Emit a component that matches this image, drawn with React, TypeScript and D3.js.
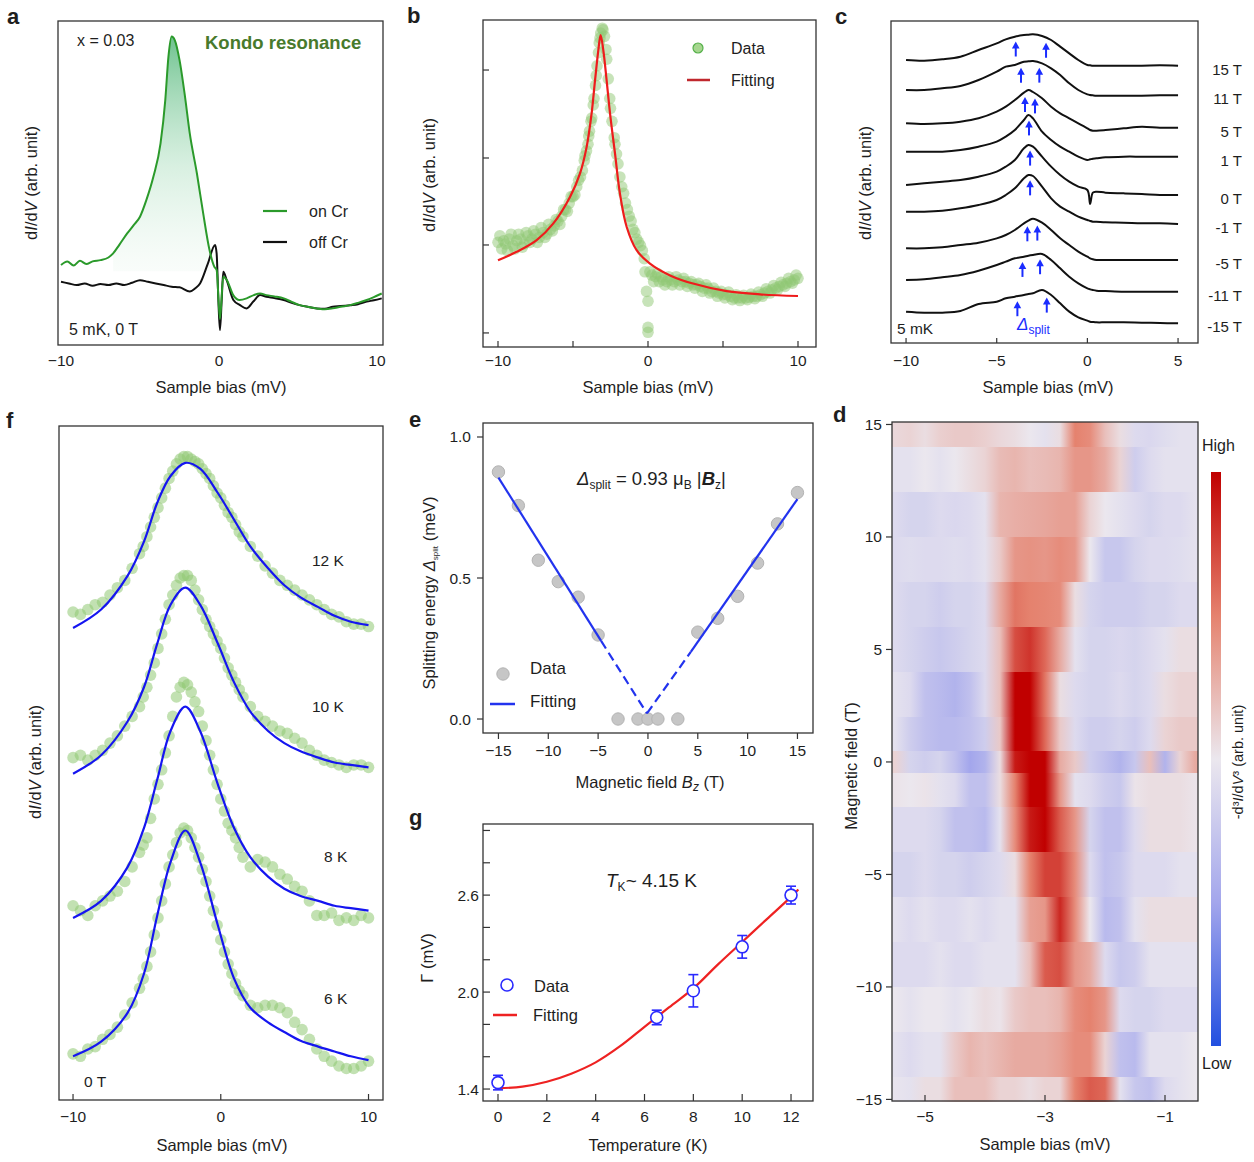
import React from "react";
import * as d3 from "d3";

const FONT = "Arial, 'Liberation Sans', Helvetica, sans-serif";
const INK = "#1e1e1e";
const EDGE = "#333333";
const DOT_GREEN = "#8fc873";
const TICK = 15.5;
const TITLE = 16.5;
const LEG = 16;

// ---------- panel a : on / off Cr spectra ----------
const aOnBias = [-10, -9.6, -9.2, -8.8, -8.4, -8, -7.5, -7, -6.7, -6.3, -5.8, -5.4, -5, -4.6, -4.15, -3.7, -3.4, -3.2, -3.0, -2.8, -2.5, -2.15, -1.85, -1.4, -1.0, -0.6, -0.3, -0.15, 0.06, 0.27, 0.5, 0.9, 1.3, 1.75, 2.2, 2.6, 3.0, 3.5, 4.1, 4.6, 5.1, 5.6, 6.2, 6.7, 7.2, 7.7, 8.3, 8.8, 9.35, 9.8, 10.3];
const aOnVal = [0.247, 0.258, 0.245, 0.26, 0.25, 0.258, 0.262, 0.27, 0.283, 0.31, 0.345, 0.37, 0.396, 0.447, 0.52, 0.622, 0.756, 0.89, 0.952, 0.941, 0.88, 0.766, 0.653, 0.53, 0.406, 0.293, 0.242, 0.232, 0.08, 0.211, 0.2, 0.154, 0.139, 0.144, 0.154, 0.159, 0.154, 0.15, 0.144, 0.133, 0.123, 0.118, 0.113, 0.11, 0.113, 0.118, 0.123, 0.13, 0.139, 0.148, 0.159];
const aOffBias = [-10, -9.5, -9, -8.5, -8, -7.5, -7, -6.5, -6, -5.5, -5, -4.5, -4, -3.5, -3.0, -2.5, -1.85, -1.5, -1.2, -0.7, -0.25, -0.15, -0.04, 0.06, 0.17, 0.27, 0.49, 0.91, 1.33, 1.75, 2.17, 2.6, 3.0, 3.5, 4.1, 4.6, 5.1, 5.6, 6.2, 6.7, 7.2, 7.7, 8.3, 8.8, 9.35, 9.8, 10.3];
const aOffVal = [0.195, 0.19, 0.185, 0.19, 0.183, 0.188, 0.185, 0.19, 0.185, 0.192, 0.2, 0.195, 0.19, 0.185, 0.18, 0.178, 0.165, 0.175, 0.19, 0.252, 0.309, 0.283, 0.139, 0.046, 0.139, 0.226, 0.2, 0.139, 0.123, 0.113, 0.134, 0.154, 0.149, 0.145, 0.139, 0.13, 0.123, 0.118, 0.113, 0.112, 0.118, 0.12, 0.123, 0.126, 0.134, 0.138, 0.144];
const aFillRange = [-6.9, -0.35];
const aFillBase = 0.228;

// ---------- panel b : data + fit ----------
const bBias = [-10, -9.75, -9.5, -9.25, -9, -8.75, -8.5, -8.25, -8, -7.75, -7.5, -7.25, -7, -6.75, -6.5, -6.25, -6, -5.75, -5.5, -5.25, -5, -4.75, -4.5, -4.25, -4.1, -4, -3.9, -3.75, -3.6, -3.5, -3.4, -3.25, -3.15, -3.05, -3, -2.9, -2.8, -2.75, -2.65, -2.55, -2.5, -2.4, -2.25, -2.1, -2, -1.75, -1.5, -1.25, -1, -0.75, -0.5, -0.25, -0.1, 0, 0, 0, 0.25, 0.5, 0.75, 1, 1.25, 1.5, 1.75, 2, 2.25, 2.5, 2.75, 3, 3.25, 3.5, 3.75, 4, 4.25, 4.5, 4.75, 5, 5.25, 5.5, 5.75, 6, 6.25, 6.5, 6.75, 7, 7.25, 7.5, 7.75, 8, 8.25, 8.5, 8.75, 9, 9.25, 9.5, 9.75, 10];
const bVal = [0.32, 0.30, 0.315, 0.33, 0.31, 0.325, 0.33, 0.315, 0.34, 0.33, 0.345, 0.335, 0.35, 0.345, 0.36, 0.37, 0.385, 0.40, 0.42, 0.44, 0.46, 0.49, 0.52, 0.57, 0.60, 0.62, 0.66, 0.70, 0.76, 0.80, 0.86, 0.93, 0.96, 0.975, 0.97, 0.95, 0.91, 0.88, 0.82, 0.76, 0.73, 0.69, 0.64, 0.59, 0.56, 0.49, 0.44, 0.40, 0.36, 0.33, 0.31, 0.27, 0.17, 0.14, 0.06, 0.045, 0.22, 0.215, 0.20, 0.205, 0.2, 0.205, 0.2, 0.205, 0.2, 0.2, 0.195, 0.19, 0.19, 0.185, 0.18, 0.18, 0.17, 0.17, 0.165, 0.16, 0.16, 0.155, 0.15, 0.15, 0.15, 0.15, 0.152, 0.155, 0.155, 0.16, 0.165, 0.17, 0.175, 0.18, 0.185, 0.19, 0.195, 0.2, 0.205, 0.21];
// second scan of points filling the band
const bBias2 = [-9.875, -9.625, -9.375, -9.125, -8.875, -8.625, -8.375, -8.125, -7.875, -7.625, -7.375, -7.125, -6.875, -6.625, -6.375, -6.125, -5.875, -5.625, -5.375, -5.125, -4.875, -4.625, -4.375, -4.2, -3.95, -3.8, -3.65, -3.45, -3.3, -3.2, -2.2, -1.875, -1.625, -1.375, -1.125, -0.875, -0.625, -0.375, -0.2, 0.125, 0.375, 0.625, 0.875, 1.125, 1.375, 1.625, 1.875, 2.125, 2.375, 2.625, 2.875, 3.125, 3.375, 3.625, 3.875, 4.125, 4.375, 4.625, 4.875, 5.125, 5.375, 5.625, 5.875, 6.125, 6.375, 6.625, 6.875, 7.125, 7.375, 7.625, 7.875, 8.125, 8.375, 8.625, 8.875, 9.125, 9.375, 9.625, 9.875];
const bVal2 = [0.34, 0.325, 0.295, 0.345, 0.3, 0.345, 0.305, 0.35, 0.32, 0.355, 0.32, 0.365, 0.335, 0.375, 0.355, 0.39, 0.375, 0.42, 0.415, 0.46, 0.465, 0.51, 0.54, 0.585, 0.645, 0.69, 0.74, 0.83, 0.9, 0.945, 0.62, 0.52, 0.47, 0.42, 0.385, 0.35, 0.32, 0.295, 0.23, 0.23, 0.2, 0.225, 0.215, 0.19, 0.215, 0.19, 0.215, 0.19, 0.21, 0.185, 0.2, 0.18, 0.195, 0.17, 0.19, 0.165, 0.18, 0.155, 0.17, 0.15, 0.168, 0.145, 0.16, 0.142, 0.158, 0.145, 0.162, 0.148, 0.168, 0.155, 0.178, 0.165, 0.188, 0.175, 0.198, 0.185, 0.21, 0.195, 0.22];
const bFitBias = [-10, -8.76, -7.42, -6.31, -5.2, -4.53, -4.09, -3.76, -3.53, -3.31, -3.16, -2.98, -2.76, -2.53, -2.2, -1.87, -1.42, -0.76, 0.13, 1.47, 3.0, 5.24, 7.47, 10];
const bFitVal = [0.265, 0.291, 0.327, 0.378, 0.459, 0.531, 0.612, 0.714, 0.816, 0.908, 0.954, 0.908, 0.816, 0.714, 0.592, 0.469, 0.367, 0.296, 0.255, 0.219, 0.194, 0.171, 0.161, 0.156];
const bYTicks = [0.043, 0.312, 0.578, 0.847];

// ---------- panel c : field-dependent spectra ----------
const cBias = [-10, -9, -8, -7, -6, -5, -4.5, -4, -3.5, -3.25, -3, -2.5, -2, -1.5, -1, -0.5, 0, 0.15, 0.3, 0.5, 1, 2, 3, 4, 5];
const c15 = [84.9, 84.7, 85.1, 85.9, 87.9, 89.9, 91.1, 91.9, 92.4, 92.5, 92.6, 92.1, 90.9, 88.9, 86.9, 84.9, 83.4, 83.3, 83.2, 83.2, 83.2, 83.2, 83.2, 83.3, 83.2];
const c11 = [75.9, 75.9, 76.4, 77.1, 78.9, 81.4, 82.9, 83.4, 84.4, 84.5, 84.6, 83.9, 82.4, 80.4, 77.9, 75.9, 74.6, 74.4, 74.3, 74.2, 74.2, 74.2, 74.2, 74.3, 74.3];
const c5 = [65.9, 65.7, 65.9, 66.4, 67.4, 69.4, 70.9, 72.9, 75.1, 75.9, 75.3, 73.4, 70.9, 68.9, 67.4, 65.9, 64.4, 63.9, 63.7, 63.7, 63.9, 64.4, 64.9, 64.6, 64.6];
const c1 = [57.4, 57.4, 57.4, 57.9, 58.9, 60.4, 61.9, 63.9, 66.9, 68.4, 67.4, 63.4, 60.9, 58.9, 57.4, 55.9, 54.9, 55.1, 55.3, 55.4, 55.7, 55.9, 55.9, 55.9, 55.9];
const c0 = [47.4, 47.9, 48.4, 48.9, 49.9, 51.4, 52.9, 54.9, 58.4, 59.4, 58.9, 55.9, 52.9, 50.4, 48.4, 46.9, 45.9, 41.7, 45.1, 45.4, 45.1, 44.9, 44.7, 44.4, 44.4];
const cM1 = [39.4, 39.4, 39.7, 40.4, 41.4, 42.9, 44.4, 46.4, 49.4, 50.4, 50.1, 46.9, 43.4, 40.9, 39.4, 37.9, 36.9, 36.6, 36.4, 36.4, 36.2, 36.1, 35.9, 35.9, 35.7];
const cM5 = [28.4, 28.4, 28.7, 29.4, 30.1, 31.4, 32.4, 33.9, 35.9, 36.7, 37.3, 36.1, 33.9, 31.4, 29.4, 27.4, 25.9, 25.4, 25.1, 24.9, 24.9, 24.9, 24.9, 24.9, 24.9];
const cM11 = [18.9, 19.1, 19.7, 20.4, 21.7, 23.4, 24.4, 25.4, 25.9, 26.2, 26.4, 26.7, 24.9, 22.4, 19.9, 17.9, 16.4, 16.1, 15.9, 15.7, 15.6, 15.4, 15.4, 15.4, 15.4];
const cM15 = [9.4, 9.1, 9.1, 9.6, 11.7, 12.4, 13.4, 13.9, 14.4, 14.7, 14.9, 15.9, 14.4, 11.9, 9.4, 7.7, 6.7, 6.4, 6.3, 6.2, 6.2, 6.2, 6.1, 6.0, 5.9];
const cLabels = ["15 T", "11 T", "5 T", "1 T", "0 T", "-1 T", "-5 T", "-11 T", "-15 T"];
const cArrows = [[-3.95, -2.28], [-3.66, -2.65], [-3.44, -2.89], [-3.22], [-3.16], [-3.16], [-3.31, -2.76], [-3.58, -2.61], [-3.86, -2.24]];

// ---------- panel d : -d3I/dV3 map ----------
const dFields = [15, 13, 11, 9, 7, 5, 3, 1, 0, -1, -3, -5, -7, -9, -11, -13, -15];
const dBias = [-5.5, -5.25, -5, -4.75, -4.5, -4.25, -4, -3.75, -3.5, -3.25, -3, -2.75, -2.5, -2.25, -2, -1.75, -1.5, -1.25, -1, -0.75, -0.5];
const dRow15 = [0.08, 0.1, 0.05, 0.12, 0.15, 0.15, 0.12, 0.08, 0.05, 0, -0.05, 0.05, 0.5, 0.45, 0.2, 0.05, -0.1, -0.12, -0.08, -0.05, -0.05];
const dRow13 = [-0.05, -0.05, 0, -0.05, 0, 0.05, 0.1, 0.22, 0.25, 0.2, 0.22, 0.25, 0.4, 0.4, 0.3, 0.1, -0.2, -0.1, -0.05, -0.05, -0.05];
const dRow11 = [-0.1, -0.15, -0.15, -0.1, -0.12, -0.1, -0.05, 0.25, 0.28, 0.3, 0.32, 0.35, 0.35, 0.1, 0.0, -0.05, -0.1, -0.15, -0.1, -0.1, -0.05];
const dRow9 = [-0.1, -0.08, -0.1, -0.1, -0.08, -0.1, -0.05, 0.15, 0.4, 0.42, 0.4, 0.45, 0.4, 0.0, -0.25, -0.25, -0.15, -0.1, -0.1, -0.08, -0.05];
const dRow7 = [-0.1, -0.15, -0.15, -0.2, -0.15, -0.15, -0.1, 0.3, 0.55, 0.5, 0.48, 0.45, 0.05, -0.15, -0.2, -0.2, -0.2, -0.15, -0.15, -0.1, -0.1];
const dRow5 = [-0.1, -0.15, -0.2, -0.25, -0.2, -0.15, -0.1, 0.2, 0.7, 0.8, 0.6, 0.3, -0.05, -0.15, -0.15, -0.12, -0.15, -0.1, -0.05, 0.05, 0.05];
const dRow3 = [-0.05, -0.1, -0.3, -0.35, -0.4, -0.3, -0.1, 0.2, 1.0, 1.0, 0.55, 0.05, -0.1, -0.15, -0.15, -0.1, -0.15, -0.1, 0.05, 0.1, 0.1];
const dRow1 = [-0.05, -0.2, -0.3, -0.35, -0.35, -0.3, -0.2, 0.15, 1.0, 1.0, 0.6, 0.15, -0.1, -0.2, -0.2, -0.15, -0.2, -0.1, 0.1, 0.15, 0.15];
const dRow0 = [0.1, -0.15, -0.2, -0.15, -0.3, -0.5, -0.4, 0.05, 0.9, 1.0, 1.0, 0.3, 0.15, -0.2, -0.3, -0.4, -0.25, 0.2, -0.4, 0.1, 0.3];
const dRowM1 = [0.02, 0.0, 0.02, -0.05, -0.1, -0.3, -0.3, 0.05, 0.5, 1.0, 1.0, 0.4, -0.05, -0.1, -0.2, -0.25, 0.02, 0.05, 0.05, 0.05, 0.02];
const dRowM3 = [-0.1, -0.1, -0.1, -0.15, -0.3, -0.3, -0.35, -0.05, 0.45, 0.9, 1.0, 0.65, 0.4, -0.15, -0.3, -0.3, -0.1, 0.05, 0.05, 0.05, 0.02];
const dRowM5 = [-0.15, -0.15, -0.1, -0.15, -0.15, -0.2, -0.15, -0.1, 0.05, 0.5, 0.75, 0.75, 0.45, -0.1, -0.3, -0.25, -0.1, -0.1, -0.1, -0.05, -0.05];
const dRowM7 = [-0.05, -0.1, -0.05, -0.1, -0.1, -0.05, -0.1, -0.05, -0.05, 0.35, 0.4, 0.85, 0.45, 0.0, -0.35, -0.3, -0.05, 0.05, 0.05, 0.05, 0.05];
const dRowM9 = [-0.1, -0.1, -0.1, -0.05, -0.1, -0.1, -0.05, -0.05, -0.05, 0.2, 0.65, 0.7, 0.4, 0.3, -0.1, -0.25, -0.2, -0.05, -0.05, -0.05, -0.05];
const dRowM11 = [0, -0.05, 0, 0, -0.05, 0, 0.05, 0.02, 0.15, 0.2, 0.2, 0.25, 0.45, 0.5, 0.4, -0.1, -0.15, -0.15, -0.1, -0.1, -0.1];
const dRowM13 = [-0.05, -0.1, -0.05, -0.05, 0.15, 0.25, 0.2, 0.25, 0.3, 0.3, 0.3, 0.35, 0.45, 0.45, 0.1, -0.3, -0.35, -0.05, -0.05, -0.05, 0.0];
const dRowM15 = [-0.02, -0.05, 0.05, 0.05, 0.2, 0.2, 0.2, 0.1, 0.1, 0.05, 0.1, 0.1, 0.5, 0.65, 0.6, -0.05, -0.25, -0.3, -0.1, -0.05, 0];
const dRows = [dRow15, dRow13, dRow11, dRow9, dRow7, dRow5, dRow3, dRow1, dRow0, dRowM1, dRowM3, dRowM5, dRowM7, dRowM9, dRowM11, dRowM13, dRowM15];

// ---------- panel e : splitting vs field ----------
const eField = [-15, -13, -11, -9, -7, -5, -3, -1, 0, 1, 3, 5, 7, 9, 11, 13, 15];
const eSplit = [0.876, 0.757, 0.563, 0.487, 0.432, 0.298, 0, 0, 0, 0, 0, 0.308, 0.357, 0.435, 0.553, 0.692, 0.803];
const eFitSolidL = [[-15, 0.856], [-4.7, 0.277]];
const eFitDashL = [[-4.7, 0.277], [-0.1, 0.02]];
const eFitDashR = [[-0.1, 0.02], [4.3, 0.238]];
const eFitSolidR = [[4.3, 0.238], [15, 0.78]];

// ---------- panel f : temperature series ----------
const fBias = [-10, -9.5, -9, -8.5, -8, -7.5, -7, -6.5, -6, -5.5, -5.25, -5, -4.75, -4.5, -4.25, -4, -3.75, -3.5, -3.25, -3, -2.75, -2.5, -2.25, -2, -1.75, -1.5, -1.25, -1, -0.75, -0.5, -0.25, 0, 0.25, 0.5, 0.75, 1, 1.25, 1.5, 2, 2.5, 3, 3.5, 4, 4.5, 5, 5.5, 6, 6.5, 7, 7.5, 8, 8.5, 9, 9.5, 10];
const f6K = [9.5, 9, 10.5, 11, 12.5, 13.5, 15, 17.5, 20, 23, 25, 27.5, 30.5, 34, 37.5, 41, 44.5, 48, 50.5, 53, 55, 56, 55.5, 54, 52, 50, 47.5, 45, 42, 39, 36, 33, 30.5, 28, 26, 24, 22.5, 21.5, 19.5, 19, 19.5, 19.5, 19, 18, 16, 14.5, 12.5, 10.5, 9, 8, 7, 6.5, 6.5, 7, 8];
const f8K = [40, 39, 38, 40, 41, 42, 43, 45, 48, 51, 52.5, 54, 58, 62, 65, 68, 71.5, 75, 79, 83, 85, 86, 85.5, 84, 82, 80, 77, 74, 71, 68, 65, 62, 59.5, 57, 55.5, 54, 52, 50, 48, 49.5, 49, 48, 46.5, 45.5, 44, 43, 41, 38, 38, 38.5, 37, 37.5, 37, 38, 37.5];
const f10K = [70.5, 71, 70, 71, 72, 73.5, 75, 77, 79, 81, 83, 85, 87.5, 90, 93, 96, 99, 102, 104, 106, 107.5, 108, 108, 107, 105, 103, 101, 99, 97.5, 96, 94.5, 93, 91, 89, 87.5, 86, 84.5, 83, 81, 79, 78, 77, 76, 75.5, 74.5, 73.5, 72, 71, 70, 69.5, 69, 68.5, 69, 69, 68.5];
const f12K = [100.5, 100, 101, 102, 102.5, 104, 105.5, 107, 109.5, 112.5, 114, 116, 118, 120, 122, 124, 126, 128, 129.5, 131, 132, 132.5, 132.5, 132, 131.5, 131, 130, 129, 128, 126.5, 125, 124, 122.5, 121, 120, 118.5, 117, 116, 114, 112, 110, 108.5, 107, 106, 105, 104, 103, 102, 101, 100, 99.5, 98.5, 98, 98, 97.5];
const fFitBias = [-10, -8.1, -6.3, -5.2, -4.3, -3.4, -2.4, -1.4, -0.2, 0.9, 2, 3.2, 4.3, 5.4, 6.6, 7.7, 8.8, 10];
const fFit6K = [9, 12, 18, 26, 38, 49, 55.5, 49, 36, 25, 19, 16, 14, 12.2, 11, 10, 9, 8.2];
const fFit8K = [37.5, 41, 48, 56, 66, 76, 81, 76, 65, 56, 50, 46, 43.5, 42, 41, 40, 39.5, 39];
const fFit10K = [67.2, 71, 78, 85, 94, 102, 105.5, 102, 94, 86, 80, 76, 73.5, 71.8, 70.5, 69.5, 69, 68.5];
const fFit12K = [97.2, 101, 108, 115, 123, 128.5, 131.2, 130, 125, 119.5, 114, 109.5, 106, 103.5, 101.5, 99.7, 98.5, 97.8];
const fLabels = ["12 K", "10 K", "8 K", "6 K"];

// ---------- panel g : width vs temperature ----------
const gTemp = [0, 6.5, 8, 10, 12];
const gGamma = [1.44, 1.843, 2.008, 2.28, 2.6];
const gErr = [0.045, 0.045, 0.1, 0.07, 0.055];
const gFitT = [0, 1, 2, 3, 4, 5, 6, 7, 8, 9, 10, 11, 12, 12.3];
const gFitG = [1.404, 1.415, 1.445, 1.495, 1.565, 1.665, 1.785, 1.905, 2.023, 2.17, 2.31, 2.45, 2.589, 2.635];

// ---------- helpers ----------
type Sc = d3.ScaleLinear<number, number>;
const fmt = (t: number) => (t < 0 ? "\u2212" + Math.abs(t) : String(t));
const zip = (a: number[], b: number[]) => a.map((v, i) => [v, b[i]] as [number, number]);

function Frame({ x, y }: { x: Sc; y: Sc }) {
  const [x0, x1] = x.range();
  const [y0, y1] = y.range();
  return <rect x={x0} y={y1} width={x1 - x0} height={y0 - y1} fill="none" stroke={EDGE} strokeWidth={1.3} />;
}

function XTicks({ x, y, values, len = 0, labelY, labels }: { x: Sc; y: Sc; values: number[]; len?: number; labelY?: number; labels?: (string | null)[] }) {
  const base = y.range()[0];
  return (
    <g>
      {values.map((v, i) => (
        <g key={i}>
          {len !== 0 && <line x1={x(v)} x2={x(v)} y1={base} y2={base + len} stroke={EDGE} strokeWidth={1.2} />}
          {labelY != null && (labels ? labels[i] : fmt(v)) != null && (
            <text x={x(v)} y={labelY} textAnchor="middle" fontSize={TICK}>{labels ? labels[i] : fmt(v)}</text>
          )}
        </g>
      ))}
    </g>
  );
}

function YTicks({ x, y, values, len = 0, labelX, labels }: { x: Sc; y: Sc; values: number[]; len?: number; labelX?: number; labels?: (string | null)[] }) {
  const base = x.range()[0];
  return (
    <g>
      {values.map((v, i) => (
        <g key={i}>
          {len !== 0 && <line x1={base} x2={base - len} y1={y(v)} y2={y(v)} stroke={EDGE} strokeWidth={1.2} />}
          {labelX != null && (labels ? labels[i] : fmt(v)) != null && (
            <text x={labelX} y={y(v) + 5.5} textAnchor="end" fontSize={TICK}>{labels ? labels[i] : fmt(v)}</text>
          )}
        </g>
      ))}
    </g>
  );
}

function YTitle({ x, y, children, size = TITLE }: { x: number; y: number; children: React.ReactNode; size?: number }) {
  return (
    <text transform={`translate(${x + 5},${y}) rotate(-90)`} textAnchor="middle" fontSize={size}>
      {children}
    </text>
  );
}

const DIDV = () => (
  <>
    d<tspan fontStyle="italic">I</tspan>/d<tspan fontStyle="italic">V</tspan> (arb. unit)
  </>
);

function Letter({ x, y, s }: { x: number; y: number; s: string }) {
  return <text x={x} y={y} fontSize={22} fontWeight="bold">{s}</text>;
}

// ---------- panels ----------
function PanelA() {
  const x = d3.scaleLinear().domain([-10.19, 10.38]).range([58, 383]);
  const y = d3.scaleLinear().domain([0, 1]).range([345, 21]);
  const line = d3.line<[number, number]>().x((d) => x(d[0])).y((d) => y(d[1])).curve(d3.curveMonotoneX);
  const on = zip(aOnBias, aOnVal);
  const off = zip(aOffBias, aOffVal);
  const fillPts = on.filter((d) => d[0] >= aFillRange[0] && d[0] <= aFillRange[1]);
  const area = d3.area<[number, number]>().x((d) => x(d[0])).y0(y(aFillBase)).y1((d) => y(d[1])).curve(d3.curveMonotoneX);
  return (
    <g>
      <defs>
        <linearGradient id="kondoFill" x1="0" y1="0" x2="0" y2="1">
          <stop offset="0" stopColor="#3fae6a" stopOpacity={0.75} />
          <stop offset="0.55" stopColor="#8fd3a8" stopOpacity={0.35} />
          <stop offset="1" stopColor="#d9f0e0" stopOpacity={0.15} />
        </linearGradient>
      </defs>
      <path d={area(fillPts) || ""} fill="url(#kondoFill)" />
      <path d={line(off) || ""} fill="none" stroke="#111" strokeWidth={2} />
      <path d={line(on) || ""} fill="none" stroke="#2b9a2b" strokeWidth={2} />
      <Frame x={x} y={y} />
      <XTicks x={x} y={y} values={[-10, 0, 10]} labelY={366} />
      <text x={221} y={393} textAnchor="middle" fontSize={TITLE}>Sample bias (mV)</text>
      <YTitle x={32} y={183}><DIDV /></YTitle>
      <text x={77} y={46} fontSize={16}>x = 0.03</text>
      <text x={205} y={49} fontSize={18.5} fontWeight="bold" fill="#487a2c">Kondo resonance</text>
      <line x1={263} x2={287} y1={211} y2={211} stroke="#2b9a2b" strokeWidth={2.2} />
      <text x={309} y={217} fontSize={LEG}>on Cr</text>
      <line x1={263} x2={287} y1={242} y2={242} stroke="#111" strokeWidth={2.2} />
      <text x={309} y={248} fontSize={LEG}>off Cr</text>
      <text x={69} y={335} fontSize={16}>5 mK, 0 T</text>
      <Letter x={7} y={24} s="a" />
    </g>
  );
}

function PanelB() {
  const x = d3.scaleLinear().domain([-11, 11.2]).range([483, 816]);
  const y = d3.scaleLinear().domain([0, 1]).range([347, 20]);
  const line = d3.line<[number, number]>().x((d) => x(d[0])).y((d) => y(d[1])).curve(d3.curveCatmullRom.alpha(0.5));
  const pts = [...zip(bBias, bVal), ...zip(bBias2, bVal2)];
  return (
    <g>
      {pts.map((d, i) => (
        <circle key={i} cx={x(d[0])} cy={y(d[1])} r={5.8} fill={DOT_GREEN} fillOpacity={0.5} />
      ))}
      <path d={line(zip(bFitBias, bFitVal)) || ""} fill="none" stroke="#ee1c1c" strokeWidth={2.2} />
      <Frame x={x} y={y} />
      <XTicks x={x} y={y} values={[-10, -5, 0, 5, 10]} len={-6} labelY={366} labels={["\u221210", null, "0", null, "10"]} />
      <YTicks x={x} y={y} values={bYTicks} len={-6} />
      <text x={648} y={393} textAnchor="middle" fontSize={TITLE}>Sample bias (mV)</text>
      <YTitle x={430} y={175}><DIDV /></YTitle>
      <circle cx={698} cy={48} r={5} fill="#a6d68f" stroke="#55b04a" strokeWidth={1.2} />
      <text x={731} y={54} fontSize={LEG}>Data</text>
      <line x1={687} x2={710} y1={80} y2={80} stroke="#c0282d" strokeWidth={2.5} />
      <text x={731} y={86} fontSize={LEG}>Fitting</text>
      <Letter x={407} y={23} s="b" />
    </g>
  );
}

function PanelC() {
  const x = d3.scaleLinear().domain([-10.83, 6.1]).range([891, 1198]);
  const y = d3.scaleLinear().domain([0, 96.6]).range([343, 21]);
  const line = d3.line<[number, number]>().x((d) => x(d[0])).y((d) => y(d[1])).curve(d3.curveCatmullRom.alpha(0.5));
  const curves = [c15, c11, c5, c1, c0, cM1, cM5, cM11, cM15];
  const valueAt = (vals: number[], b: number) => {
    const i = d3.bisectLeft(cBias, b);
    const t = (b - cBias[i - 1]) / (cBias[i] - cBias[i - 1]);
    return vals[i - 1] + t * (vals[i] - vals[i - 1]);
  };
  return (
    <g>
      {curves.map((vals, k) => (
        <g key={k}>
          <path d={line(zip(cBias, vals)) || ""} fill="none" stroke="#111" strokeWidth={2} />
          {cArrows[k].map((b, j) => {
            const tip = y(valueAt(vals, b)) + 5;
            const ax = x(b);
            return (
              <g key={j}>
                <line x1={ax} x2={ax} y1={tip + 15} y2={tip + 5} stroke="#1a2cff" strokeWidth={2} />
                <polygon points={`${ax},${tip} ${ax - 3.8},${tip + 7} ${ax + 3.8},${tip + 7}`} fill="#1a2cff" />
              </g>
            );
          })}
          <text x={1242} y={y(vals[vals.length - 1]) + 9} textAnchor="end" fontSize={15}>{cLabels[k]}</text>
        </g>
      ))}
      <Frame x={x} y={y} />
      <XTicks x={x} y={y} values={[-10, -5, 0, 5]} len={-5} labelY={366} />
      <text x={1048} y={393} textAnchor="middle" fontSize={TITLE}>Sample bias (mV)</text>
      <YTitle x={866} y={183}><DIDV /></YTitle>
      <text x={897} y={334} fontSize={15.5}>5 mK</text>
      <text x={1017} y={330} fontSize={17} fill="#1a2cff">
        <tspan fontStyle="italic">Δ</tspan>
        <tspan fontSize={12} dy={4}>split</tspan>
      </text>
      <Letter x={835} y={24} s="c" />
    </g>
  );
}

function PanelD() {
  const x = d3.scaleLinear().domain([-5.55, -0.45]).range([892, 1198]);
  const y = d3.scaleLinear().domain([-15.07, 15.11]).range([1101, 422]);
  const color = d3
    .scaleLinear<string>()
    .domain([-1, -0.5, 0, 0.5, 1])
    .range(["#2250e0", "#a3a6ec", "#ebe7ee", "#e5826e", "#c00000"])
    .clamp(true);
  const [fLo, fHi] = y.domain();
  const [bLo, bHi] = x.domain();
  const sorted = [...dFields].sort((a, b) => a - b);
  const edge = (f: number) => {
    const i = sorted.indexOf(f);
    const lo = i === 0 ? fLo : (sorted[i - 1] + f) / 2;
    const hi = i === sorted.length - 1 ? fHi : (sorted[i + 1] + f) / 2;
    return [lo, hi];
  };
  const xL = x(bLo);
  const xR = x(bHi);
  const cbTop = 472;
  const cbBot = 1046;
  return (
    <g>
      <defs>
        <linearGradient id="cbGrad" x1="0" y1="0" x2="0" y2="1">
          {[1, 0.75, 0.5, 0.25, 0, -0.25, -0.5, -0.75, -1].map((v) => (
            <stop key={v} offset={(1 - v) / 2} stopColor={color(v)} />
          ))}
        </linearGradient>
        {dRows.map((row, r) => (
          <linearGradient key={r} id={`dRow${r}`} gradientUnits="userSpaceOnUse" x1={xL} x2={xR} y1={0} y2={0}>
            {dBias.map((b, c) => (
              <stop key={c} offset={(x(b) - xL) / (xR - xL)} stopColor={color(row[c])} />
            ))}
          </linearGradient>
        ))}
      </defs>
      <g shapeRendering="crispEdges">
        {dFields.map((f, r) => {
          const [lo, hi] = edge(f);
          return <rect key={r} x={xL} y={y(hi)} width={xR - xL} height={y(lo) - y(hi) + 0.6} fill={`url(#dRow${r})`} />;
        })}
      </g>
      <Frame x={x} y={y} />
      <YTicks x={x} y={y} values={[15, 10, 5, 0, -5, -10, -15]} len={6} labelX={882} />
      <XTicks x={x} y={y} values={[-5, -3, -1]} len={-6} labelY={1122} />
      <text x={1045} y={1150} textAnchor="middle" fontSize={TITLE}>Sample bias (mV)</text>
      <YTitle x={852} y={766}>Magnetic field (T)</YTitle>
      <rect x={1211} y={cbTop} width={10} height={cbBot - cbTop} fill="url(#cbGrad)" />
      <text x={1202} y={451} fontSize={LEG}>High</text>
      <text x={1202} y={1069} fontSize={LEG}>Low</text>
      <YTitle x={1238} y={762} size={14.5}>
        -d³<tspan fontStyle="italic">I</tspan>/d<tspan fontStyle="italic">V</tspan>³ (arb. unit)
      </YTitle>
      <Letter x={833} y={422} s="d" />
    </g>
  );
}

function PanelE() {
  const x = d3.scaleLinear().domain([-16.55, 16.56]).range([483, 813]);
  const y = d3.scaleLinear().domain([-0.0496, 1.0496]).range([733, 423]);
  const line = d3.line<number[]>().x((d) => x(d[0])).y((d) => y(d[1]));
  const blue = "#2233ee";
  return (
    <g>
      {zip(eField, eSplit).map((d, i) => (
        <circle key={i} cx={x(d[0])} cy={y(d[1])} r={6.2} fill="#c6c6c6" stroke="#b3b3b3" strokeWidth={1} />
      ))}
      <path d={line(eFitSolidL) || ""} stroke={blue} strokeWidth={2.2} fill="none" />
      <path d={line(eFitSolidR) || ""} stroke={blue} strokeWidth={2.2} fill="none" />
      <path d={line(eFitDashL) || ""} stroke={blue} strokeWidth={2.2} fill="none" strokeDasharray="9 5" />
      <path d={line(eFitDashR) || ""} stroke={blue} strokeWidth={2.2} fill="none" strokeDasharray="9 5" />
      <Frame x={x} y={y} />
      <XTicks x={x} y={y} values={[-15, -10, -5, 0, 5, 10, 15]} len={6} labelY={756} />
      <YTicks x={x} y={y} values={[0, 0.5, 1]} len={6} labelX={471} labels={["0.0", "0.5", "1.0"]} />
      <text x={650} y={788} textAnchor="middle" fontSize={TITLE}>
        Magnetic field <tspan fontStyle="italic">B</tspan>
        <tspan fontStyle="italic" fontSize={12} dy={3}>z</tspan>
        <tspan dy={-3}> (T)</tspan>
      </text>
      <YTitle x={430} y={593}>
        Splitting energy <tspan fontStyle="italic">Δ</tspan>
        <tspan fontSize={8} dy={3}>split</tspan>
        <tspan dy={-3}> (meV)</tspan>
      </YTitle>
      <text x={577} y={485} fontSize={18.5}>
        <tspan fontStyle="italic">Δ</tspan>
        <tspan fontSize={12} dy={4}>split</tspan>
        <tspan dy={-4}> = 0.93 μ</tspan>
        <tspan fontSize={12} dy={4}>B</tspan>
        <tspan dy={-4}> |</tspan>
        <tspan fontWeight="bold" fontStyle="italic">B</tspan>
        <tspan fontSize={12} dy={4}>z</tspan>
        <tspan dy={-4}>|</tspan>
      </text>
      <circle cx={503} cy={674} r={6.2} fill="#c6c6c6" stroke="#b3b3b3" />
      <text x={530} y={674} fontSize={17}>Data</text>
      <line x1={490} x2={515} y1={704} y2={704} stroke={blue} strokeWidth={2.5} />
      <text x={530} y={707} fontSize={17}>Fitting</text>
      <Letter x={409} y={427} s="e" />
    </g>
  );
}

function PanelF() {
  const x = d3.scaleLinear().domain([-10.95, 10.98]).range([59, 383]);
  const y = d3.scaleLinear().domain([0, 138.8]).range([1100, 426]);
  const line = d3.line<[number, number]>().x((d) => x(d[0])).y((d) => y(d[1])).curve(d3.curveCatmullRom.alpha(0.5));
  const data = [f12K, f10K, f8K, f6K];
  const fits = [fFit12K, fFit10K, fFit8K, fFit6K];
  const labelPos = [
    [312, 566],
    [312, 712],
    [324, 862],
    [324, 1004],
  ];
  return (
    <g>
      {data.map((vals, k) => (
        <g key={k}>
          {zip(fBias, vals).map((d, i) => (
            <circle key={i} cx={x(d[0])} cy={y(d[1])} r={5.8} fill={DOT_GREEN} fillOpacity={0.55} />
          ))}
        </g>
      ))}
      {fits.map((vals, k) => (
        <path key={k} d={line(zip(fFitBias, vals)) || ""} fill="none" stroke="#1515f0" strokeWidth={2.2} />
      ))}
      {fLabels.map((s, k) => (
        <text key={s} x={labelPos[k][0]} y={labelPos[k][1]} fontSize={15.5}>{s}</text>
      ))}
      <text x={84} y={1087} fontSize={15.5}>0 T</text>
      <Frame x={x} y={y} />
      <XTicks x={x} y={y} values={[-10, 0, 10]} len={-6} labelY={1122} />
      <text x={222} y={1151} textAnchor="middle" fontSize={TITLE}>Sample bias (mV)</text>
      <YTitle x={36} y={762}><DIDV /></YTitle>
      <Letter x={6} y={428} s="f" />
    </g>
  );
}

function PanelG() {
  const x = d3.scaleLinear().domain([-0.614, 12.9]).range([483, 813]);
  const y = d3.scaleLinear().domain([1.326, 3.04]).range([1101, 824]);
  const line = d3.line<[number, number]>().x((d) => x(d[0])).y((d) => y(d[1])).curve(d3.curveCatmullRom.alpha(0.5));
  const blue = "#2a2aff";
  const yt = [1.4, 1.6, 1.8, 2.0, 2.2, 2.4, 2.6, 2.8, 3.0];
  return (
    <g>
      <path d={line(zip(gFitT, gFitG)) || ""} fill="none" stroke="#ee2222" strokeWidth={2.2} />
      {gTemp.map((t, i) => {
        const cx = x(t);
        const top = y(gGamma[i] + gErr[i]);
        const bot = y(gGamma[i] - gErr[i]);
        return (
          <g key={i} stroke={blue} strokeWidth={1.6}>
            <line x1={cx} x2={cx} y1={top} y2={bot} />
            <line x1={cx - 5} x2={cx + 5} y1={top} y2={top} />
            <line x1={cx - 5} x2={cx + 5} y1={bot} y2={bot} />
            <circle cx={cx} cy={y(gGamma[i])} r={6} fill="white" />
          </g>
        );
      })}
      <Frame x={x} y={y} />
      <XTicks x={x} y={y} values={[0, 2, 4, 6, 8, 10, 12]} len={-7} labelY={1122} />
      <YTicks x={x} y={y} values={yt} len={-7} labelX={479} labels={yt.map((v) => ([1.4, 2.0, 2.6].some((u) => Math.abs(u - v) < 1e-6) ? v.toFixed(1) : null))} />
      <text x={648} y={1151} textAnchor="middle" fontSize={TITLE}>Temperature (K)</text>
      <YTitle x={428} y={958}>Γ (mV)</YTitle>
      <text x={606} y={887} fontSize={19}>
        <tspan fontStyle="italic">T</tspan>
        <tspan fontSize={12} dy={4}>K</tspan>
        <tspan dy={-4}>~ 4.15 K</tspan>
      </text>
      <circle cx={507} cy={985} r={6} fill="white" stroke={blue} strokeWidth={1.6} />
      <text x={534} y={992} fontSize={16.5}>Data</text>
      <line x1={493} x2={517} y1={1015} y2={1015} stroke="#ee2222" strokeWidth={2.5} />
      <text x={533} y={1021} fontSize={16.5}>Fitting</text>
      <Letter x={409} y={825} s="g" />
    </g>
  );
}

export default function App() {
  return (
    <svg
      width={1254}
      height={1162}
      style={{ position: "absolute", left: 0, top: 0, background: "white" }}
      fontFamily={FONT}
      fill={INK}
    >
      <PanelA />
      <PanelB />
      <PanelC />
      <PanelD />
      <PanelE />
      <PanelF />
      <PanelG />
    </svg>
  );
}
